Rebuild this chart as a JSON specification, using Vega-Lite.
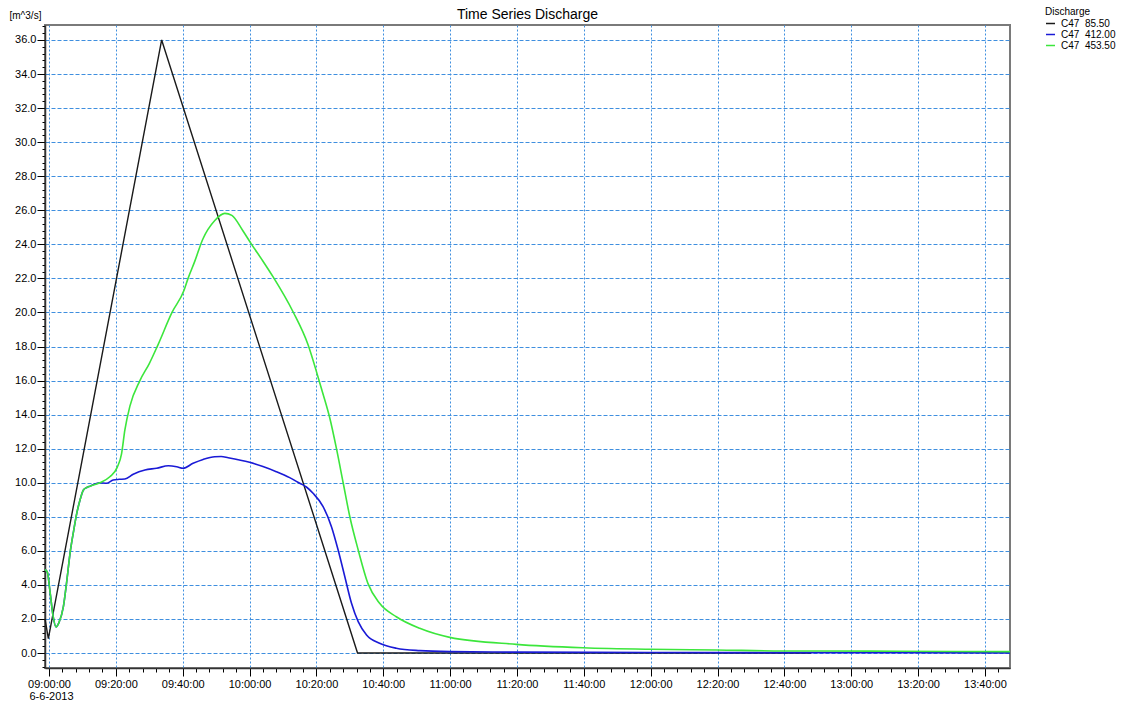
{
  "$schema": "https://vega.github.io/schema/vega-lite/v6.json",
  "width": 965,
  "height": 643,
  "autosize": {"type": "none"},
  "padding": {"left": 45, "top": 25, "right": 120, "bottom": 36},
  "background": "white",
  "config": {
    "font": "Liberation Sans",
    "view": {"stroke": "#7a7a7a", "strokeWidth": 2},
    "axis": {"labelColor": "#000", "tickColor": "#000", "titleColor": "#000", "domainColor": "#333"}
  },
  "title": {"text": "Time Series Discharge", "fontSize": 14, "fontWeight": "normal", "anchor": "middle", "offset": -15, "color": "#000"},
  "data": {"values": [
    {"t": "2013-06-06T08:58:48", "v": 2.0, "s": "C47\u00a0\u00a085.50"},
    {"t": "2013-06-06T08:59:48", "v": 0.85, "s": "C47\u00a0\u00a085.50"},
    {"t": "2013-06-06T09:33:42", "v": 36.0, "s": "C47\u00a0\u00a085.50"},
    {"t": "2013-06-06T10:32:18", "v": 0.0, "s": "C47\u00a0\u00a085.50"},
    {"t": "2013-06-06T12:48:00", "v": 0.0, "s": "C47\u00a0\u00a085.50"},

    {"t": "2013-06-06T08:58:48", "v": 4.9, "s": "C47\u00a0\u00a0412.00"},
    {"t": "2013-06-06T08:59:30", "v": 4.75, "s": "C47\u00a0\u00a0412.00"},
    {"t": "2013-06-06T09:00:18", "v": 3.6, "s": "C47\u00a0\u00a0412.00"},
    {"t": "2013-06-06T09:01:12", "v": 2.2, "s": "C47\u00a0\u00a0412.00"},
    {"t": "2013-06-06T09:02:06", "v": 1.53, "s": "C47\u00a0\u00a0412.00"},
    {"t": "2013-06-06T09:03:00", "v": 1.8, "s": "C47\u00a0\u00a0412.00"},
    {"t": "2013-06-06T09:04:18", "v": 2.72, "s": "C47\u00a0\u00a0412.00"},
    {"t": "2013-06-06T09:05:18", "v": 4.2, "s": "C47\u00a0\u00a0412.00"},
    {"t": "2013-06-06T09:06:18", "v": 5.87, "s": "C47\u00a0\u00a0412.00"},
    {"t": "2013-06-06T09:07:18", "v": 7.1, "s": "C47\u00a0\u00a0412.00"},
    {"t": "2013-06-06T09:08:18", "v": 8.2, "s": "C47\u00a0\u00a0412.00"},
    {"t": "2013-06-06T09:09:18", "v": 9.0, "s": "C47\u00a0\u00a0412.00"},
    {"t": "2013-06-06T09:10:18", "v": 9.57, "s": "C47\u00a0\u00a0412.00"},
    {"t": "2013-06-06T09:11:18", "v": 9.72, "s": "C47\u00a0\u00a0412.00"},
    {"t": "2013-06-06T09:12:18", "v": 9.8, "s": "C47\u00a0\u00a0412.00"},
    {"t": "2013-06-06T09:13:42", "v": 9.92, "s": "C47\u00a0\u00a0412.00"},
    {"t": "2013-06-06T09:15:12", "v": 10.0, "s": "C47\u00a0\u00a0412.00"},
    {"t": "2013-06-06T09:17:12", "v": 9.97, "s": "C47\u00a0\u00a0412.00"},
    {"t": "2013-06-06T09:19:12", "v": 10.16, "s": "C47\u00a0\u00a0412.00"},
    {"t": "2013-06-06T09:21:00", "v": 10.2, "s": "C47\u00a0\u00a0412.00"},
    {"t": "2013-06-06T09:22:42", "v": 10.22, "s": "C47\u00a0\u00a0412.00"},
    {"t": "2013-06-06T09:25:12", "v": 10.5, "s": "C47\u00a0\u00a0412.00"},
    {"t": "2013-06-06T09:28:42", "v": 10.75, "s": "C47\u00a0\u00a0412.00"},
    {"t": "2013-06-06T09:32:12", "v": 10.85, "s": "C47\u00a0\u00a0412.00"},
    {"t": "2013-06-06T09:35:42", "v": 11.0, "s": "C47\u00a0\u00a0412.00"},
    {"t": "2013-06-06T09:38:12", "v": 10.94, "s": "C47\u00a0\u00a0412.00"},
    {"t": "2013-06-06T09:40:06", "v": 10.85, "s": "C47\u00a0\u00a0412.00"},
    {"t": "2013-06-06T09:43:06", "v": 11.14, "s": "C47\u00a0\u00a0412.00"},
    {"t": "2013-06-06T09:46:06", "v": 11.37, "s": "C47\u00a0\u00a0412.00"},
    {"t": "2013-06-06T09:49:36", "v": 11.53, "s": "C47\u00a0\u00a0412.00"},
    {"t": "2013-06-06T09:51:30", "v": 11.54, "s": "C47\u00a0\u00a0412.00"},
    {"t": "2013-06-06T09:53:36", "v": 11.47, "s": "C47\u00a0\u00a0412.00"},
    {"t": "2013-06-06T10:00:00", "v": 11.2, "s": "C47\u00a0\u00a0412.00"},
    {"t": "2013-06-06T10:04:00", "v": 10.95, "s": "C47\u00a0\u00a0412.00"},
    {"t": "2013-06-06T10:08:00", "v": 10.65, "s": "C47\u00a0\u00a0412.00"},
    {"t": "2013-06-06T10:12:00", "v": 10.3, "s": "C47\u00a0\u00a0412.00"},
    {"t": "2013-06-06T10:15:00", "v": 9.97, "s": "C47\u00a0\u00a0412.00"},
    {"t": "2013-06-06T10:17:00", "v": 9.75, "s": "C47\u00a0\u00a0412.00"},
    {"t": "2013-06-06T10:19:00", "v": 9.38, "s": "C47\u00a0\u00a0412.00"},
    {"t": "2013-06-06T10:22:00", "v": 8.6, "s": "C47\u00a0\u00a0412.00"},
    {"t": "2013-06-06T10:24:30", "v": 7.42, "s": "C47\u00a0\u00a0412.00"},
    {"t": "2013-06-06T10:26:30", "v": 6.05, "s": "C47\u00a0\u00a0412.00"},
    {"t": "2013-06-06T10:28:30", "v": 4.48, "s": "C47\u00a0\u00a0412.00"},
    {"t": "2013-06-06T10:30:30", "v": 2.92, "s": "C47\u00a0\u00a0412.00"},
    {"t": "2013-06-06T10:32:30", "v": 1.84, "s": "C47\u00a0\u00a0412.00"},
    {"t": "2013-06-06T10:35:00", "v": 1.06, "s": "C47\u00a0\u00a0412.00"},
    {"t": "2013-06-06T10:38:54", "v": 0.57, "s": "C47\u00a0\u00a0412.00"},
    {"t": "2013-06-06T10:43:54", "v": 0.28, "s": "C47\u00a0\u00a0412.00"},
    {"t": "2013-06-06T10:50:54", "v": 0.14, "s": "C47\u00a0\u00a0412.00"},
    {"t": "2013-06-06T11:00:00", "v": 0.08, "s": "C47\u00a0\u00a0412.00"},
    {"t": "2013-06-06T11:20:00", "v": 0.05, "s": "C47\u00a0\u00a0412.00"},
    {"t": "2013-06-06T12:00:00", "v": 0.03, "s": "C47\u00a0\u00a0412.00"},
    {"t": "2013-06-06T12:50:00", "v": 0.02, "s": "C47\u00a0\u00a0412.00"},
    {"t": "2013-06-06T13:47:30", "v": 0.01, "s": "C47\u00a0\u00a0412.00"},

    {"t": "2013-06-06T08:58:48", "v": 4.9, "s": "C47\u00a0\u00a0453.50"},
    {"t": "2013-06-06T08:59:30", "v": 4.75, "s": "C47\u00a0\u00a0453.50"},
    {"t": "2013-06-06T09:00:18", "v": 3.6, "s": "C47\u00a0\u00a0453.50"},
    {"t": "2013-06-06T09:01:12", "v": 2.2, "s": "C47\u00a0\u00a0453.50"},
    {"t": "2013-06-06T09:02:06", "v": 1.53, "s": "C47\u00a0\u00a0453.50"},
    {"t": "2013-06-06T09:03:00", "v": 1.8, "s": "C47\u00a0\u00a0453.50"},
    {"t": "2013-06-06T09:04:18", "v": 2.72, "s": "C47\u00a0\u00a0453.50"},
    {"t": "2013-06-06T09:05:18", "v": 4.2, "s": "C47\u00a0\u00a0453.50"},
    {"t": "2013-06-06T09:06:18", "v": 5.87, "s": "C47\u00a0\u00a0453.50"},
    {"t": "2013-06-06T09:07:18", "v": 7.1, "s": "C47\u00a0\u00a0453.50"},
    {"t": "2013-06-06T09:08:18", "v": 8.2, "s": "C47\u00a0\u00a0453.50"},
    {"t": "2013-06-06T09:09:18", "v": 9.0, "s": "C47\u00a0\u00a0453.50"},
    {"t": "2013-06-06T09:10:18", "v": 9.57, "s": "C47\u00a0\u00a0453.50"},
    {"t": "2013-06-06T09:11:18", "v": 9.72, "s": "C47\u00a0\u00a0453.50"},
    {"t": "2013-06-06T09:12:18", "v": 9.8, "s": "C47\u00a0\u00a0453.50"},
    {"t": "2013-06-06T09:15:12", "v": 10.0, "s": "C47\u00a0\u00a0453.50"},
    {"t": "2013-06-06T09:18:12", "v": 10.35, "s": "C47\u00a0\u00a0453.50"},
    {"t": "2013-06-06T09:20:24", "v": 10.9, "s": "C47\u00a0\u00a0453.50"},
    {"t": "2013-06-06T09:21:42", "v": 11.7, "s": "C47\u00a0\u00a0453.50"},
    {"t": "2013-06-06T09:22:42", "v": 13.1, "s": "C47\u00a0\u00a0453.50"},
    {"t": "2013-06-06T09:24:12", "v": 14.5, "s": "C47\u00a0\u00a0453.50"},
    {"t": "2013-06-06T09:27:12", "v": 16.0, "s": "C47\u00a0\u00a0453.50"},
    {"t": "2013-06-06T09:30:00", "v": 17.0, "s": "C47\u00a0\u00a0453.50"},
    {"t": "2013-06-06T09:32:36", "v": 18.1, "s": "C47\u00a0\u00a0453.50"},
    {"t": "2013-06-06T09:36:48", "v": 20.0, "s": "C47\u00a0\u00a0453.50"},
    {"t": "2013-06-06T09:40:24", "v": 21.3, "s": "C47\u00a0\u00a0453.50"},
    {"t": "2013-06-06T09:41:36", "v": 22.0, "s": "C47\u00a0\u00a0453.50"},
    {"t": "2013-06-06T09:43:36", "v": 23.0, "s": "C47\u00a0\u00a0453.50"},
    {"t": "2013-06-06T09:46:00", "v": 24.3, "s": "C47\u00a0\u00a0453.50"},
    {"t": "2013-06-06T09:49:36", "v": 25.4, "s": "C47\u00a0\u00a0453.50"},
    {"t": "2013-06-06T09:52:36", "v": 25.82, "s": "C47\u00a0\u00a0453.50"},
    {"t": "2013-06-06T09:54:42", "v": 25.7, "s": "C47\u00a0\u00a0453.50"},
    {"t": "2013-06-06T09:58:00", "v": 24.8, "s": "C47\u00a0\u00a0453.50"},
    {"t": "2013-06-06T10:00:36", "v": 24.0, "s": "C47\u00a0\u00a0453.50"},
    {"t": "2013-06-06T10:03:42", "v": 23.1, "s": "C47\u00a0\u00a0453.50"},
    {"t": "2013-06-06T10:07:00", "v": 22.1, "s": "C47\u00a0\u00a0453.50"},
    {"t": "2013-06-06T10:13:00", "v": 20.04, "s": "C47\u00a0\u00a0453.50"},
    {"t": "2013-06-06T10:17:30", "v": 18.1, "s": "C47\u00a0\u00a0453.50"},
    {"t": "2013-06-06T10:20:30", "v": 16.2, "s": "C47\u00a0\u00a0453.50"},
    {"t": "2013-06-06T10:22:00", "v": 15.2, "s": "C47\u00a0\u00a0453.50"},
    {"t": "2013-06-06T10:24:00", "v": 13.8, "s": "C47\u00a0\u00a0453.50"},
    {"t": "2013-06-06T10:26:00", "v": 12.0, "s": "C47\u00a0\u00a0453.50"},
    {"t": "2013-06-06T10:28:00", "v": 10.0, "s": "C47\u00a0\u00a0453.50"},
    {"t": "2013-06-06T10:30:00", "v": 8.0, "s": "C47\u00a0\u00a0453.50"},
    {"t": "2013-06-06T10:32:30", "v": 6.05, "s": "C47\u00a0\u00a0453.50"},
    {"t": "2013-06-06T10:35:24", "v": 4.09, "s": "C47\u00a0\u00a0453.50"},
    {"t": "2013-06-06T10:38:54", "v": 2.92, "s": "C47\u00a0\u00a0453.50"},
    {"t": "2013-06-06T10:43:54", "v": 2.13, "s": "C47\u00a0\u00a0453.50"},
    {"t": "2013-06-06T10:50:54", "v": 1.45, "s": "C47\u00a0\u00a0453.50"},
    {"t": "2013-06-06T10:59:54", "v": 0.92, "s": "C47\u00a0\u00a0453.50"},
    {"t": "2013-06-06T11:19:48", "v": 0.51, "s": "C47\u00a0\u00a0453.50"},
    {"t": "2013-06-06T11:39:42", "v": 0.31, "s": "C47\u00a0\u00a0453.50"},
    {"t": "2013-06-06T11:59:42", "v": 0.22, "s": "C47\u00a0\u00a0453.50"},
    {"t": "2013-06-06T12:19:36", "v": 0.18, "s": "C47\u00a0\u00a0453.50"},
    {"t": "2013-06-06T12:39:30", "v": 0.12, "s": "C47\u00a0\u00a0453.50"},
    {"t": "2013-06-06T12:50:30", "v": 0.12, "s": "C47\u00a0\u00a0453.50"},
    {"t": "2013-06-06T13:14:24", "v": 0.1, "s": "C47\u00a0\u00a0453.50"},
    {"t": "2013-06-06T13:47:30", "v": 0.08, "s": "C47\u00a0\u00a0453.50"}
  ]},
  "layer": [
    {
      "mark": {"type": "point", "opacity": 0},
      "encoding": {
        "x": {"field": "t", "type": "temporal",
          "scale": {"domain": [{"year": 2013, "month": 6, "date": 6, "hours": 8, "minutes": 58, "seconds": 48}, {"year": 2013, "month": 6, "date": 6, "hours": 13, "minutes": 47, "seconds": 30}]},
          "axis": {"orient": "bottom", "labels": false, "grid": false, "domain": false, "tickSize": 4, "title": null,
            "values": [
              {"year": 2013, "month": 6, "date": 6, "hours": 9, "minutes": 0},
              {"year": 2013, "month": 6, "date": 6, "hours": 9, "minutes": 4},
              {"year": 2013, "month": 6, "date": 6, "hours": 9, "minutes": 8},
              {"year": 2013, "month": 6, "date": 6, "hours": 9, "minutes": 12},
              {"year": 2013, "month": 6, "date": 6, "hours": 9, "minutes": 16},
              {"year": 2013, "month": 6, "date": 6, "hours": 9, "minutes": 20},
              {"year": 2013, "month": 6, "date": 6, "hours": 9, "minutes": 24},
              {"year": 2013, "month": 6, "date": 6, "hours": 9, "minutes": 28},
              {"year": 2013, "month": 6, "date": 6, "hours": 9, "minutes": 32},
              {"year": 2013, "month": 6, "date": 6, "hours": 9, "minutes": 36},
              {"year": 2013, "month": 6, "date": 6, "hours": 9, "minutes": 40},
              {"year": 2013, "month": 6, "date": 6, "hours": 9, "minutes": 44},
              {"year": 2013, "month": 6, "date": 6, "hours": 9, "minutes": 48},
              {"year": 2013, "month": 6, "date": 6, "hours": 9, "minutes": 52},
              {"year": 2013, "month": 6, "date": 6, "hours": 9, "minutes": 56},
              {"year": 2013, "month": 6, "date": 6, "hours": 10, "minutes": 0},
              {"year": 2013, "month": 6, "date": 6, "hours": 10, "minutes": 4},
              {"year": 2013, "month": 6, "date": 6, "hours": 10, "minutes": 8},
              {"year": 2013, "month": 6, "date": 6, "hours": 10, "minutes": 12},
              {"year": 2013, "month": 6, "date": 6, "hours": 10, "minutes": 16},
              {"year": 2013, "month": 6, "date": 6, "hours": 10, "minutes": 20},
              {"year": 2013, "month": 6, "date": 6, "hours": 10, "minutes": 24},
              {"year": 2013, "month": 6, "date": 6, "hours": 10, "minutes": 28},
              {"year": 2013, "month": 6, "date": 6, "hours": 10, "minutes": 32},
              {"year": 2013, "month": 6, "date": 6, "hours": 10, "minutes": 36},
              {"year": 2013, "month": 6, "date": 6, "hours": 10, "minutes": 40},
              {"year": 2013, "month": 6, "date": 6, "hours": 10, "minutes": 44},
              {"year": 2013, "month": 6, "date": 6, "hours": 10, "minutes": 48},
              {"year": 2013, "month": 6, "date": 6, "hours": 10, "minutes": 52},
              {"year": 2013, "month": 6, "date": 6, "hours": 10, "minutes": 56},
              {"year": 2013, "month": 6, "date": 6, "hours": 11, "minutes": 0},
              {"year": 2013, "month": 6, "date": 6, "hours": 11, "minutes": 4},
              {"year": 2013, "month": 6, "date": 6, "hours": 11, "minutes": 8},
              {"year": 2013, "month": 6, "date": 6, "hours": 11, "minutes": 12},
              {"year": 2013, "month": 6, "date": 6, "hours": 11, "minutes": 16},
              {"year": 2013, "month": 6, "date": 6, "hours": 11, "minutes": 20},
              {"year": 2013, "month": 6, "date": 6, "hours": 11, "minutes": 24},
              {"year": 2013, "month": 6, "date": 6, "hours": 11, "minutes": 28},
              {"year": 2013, "month": 6, "date": 6, "hours": 11, "minutes": 32},
              {"year": 2013, "month": 6, "date": 6, "hours": 11, "minutes": 36},
              {"year": 2013, "month": 6, "date": 6, "hours": 11, "minutes": 40},
              {"year": 2013, "month": 6, "date": 6, "hours": 11, "minutes": 44},
              {"year": 2013, "month": 6, "date": 6, "hours": 11, "minutes": 48},
              {"year": 2013, "month": 6, "date": 6, "hours": 11, "minutes": 52},
              {"year": 2013, "month": 6, "date": 6, "hours": 11, "minutes": 56},
              {"year": 2013, "month": 6, "date": 6, "hours": 12, "minutes": 0},
              {"year": 2013, "month": 6, "date": 6, "hours": 12, "minutes": 4},
              {"year": 2013, "month": 6, "date": 6, "hours": 12, "minutes": 8},
              {"year": 2013, "month": 6, "date": 6, "hours": 12, "minutes": 12},
              {"year": 2013, "month": 6, "date": 6, "hours": 12, "minutes": 16},
              {"year": 2013, "month": 6, "date": 6, "hours": 12, "minutes": 20},
              {"year": 2013, "month": 6, "date": 6, "hours": 12, "minutes": 24},
              {"year": 2013, "month": 6, "date": 6, "hours": 12, "minutes": 28},
              {"year": 2013, "month": 6, "date": 6, "hours": 12, "minutes": 32},
              {"year": 2013, "month": 6, "date": 6, "hours": 12, "minutes": 36},
              {"year": 2013, "month": 6, "date": 6, "hours": 12, "minutes": 40},
              {"year": 2013, "month": 6, "date": 6, "hours": 12, "minutes": 44},
              {"year": 2013, "month": 6, "date": 6, "hours": 12, "minutes": 48},
              {"year": 2013, "month": 6, "date": 6, "hours": 12, "minutes": 52},
              {"year": 2013, "month": 6, "date": 6, "hours": 12, "minutes": 56},
              {"year": 2013, "month": 6, "date": 6, "hours": 13, "minutes": 0},
              {"year": 2013, "month": 6, "date": 6, "hours": 13, "minutes": 4},
              {"year": 2013, "month": 6, "date": 6, "hours": 13, "minutes": 8},
              {"year": 2013, "month": 6, "date": 6, "hours": 13, "minutes": 12},
              {"year": 2013, "month": 6, "date": 6, "hours": 13, "minutes": 16},
              {"year": 2013, "month": 6, "date": 6, "hours": 13, "minutes": 20},
              {"year": 2013, "month": 6, "date": 6, "hours": 13, "minutes": 24},
              {"year": 2013, "month": 6, "date": 6, "hours": 13, "minutes": 28},
              {"year": 2013, "month": 6, "date": 6, "hours": 13, "minutes": 32},
              {"year": 2013, "month": 6, "date": 6, "hours": 13, "minutes": 36},
              {"year": 2013, "month": 6, "date": 6, "hours": 13, "minutes": 40},
              {"year": 2013, "month": 6, "date": 6, "hours": 13, "minutes": 44}
            ]}},
        "y": {"field": "v", "type": "quantitative",
          "scale": {"domain": [-0.88, 36.88], "nice": false, "zero": false},
          "axis": {"orient": "left", "labels": false, "grid": false, "domain": false, "tickSize": 3, "title": null,
            "values": [-0.8,-0.4,0,0.4,0.8,1.2,1.6,2,2.4,2.8,3.2,3.6,4,4.4,4.8,5.2,5.6,6,6.4,6.8,7.2,7.6,8,8.4,8.8,9.2,9.6,10,10.4,10.8,11.2,11.6,12,12.4,12.8,13.2,13.6,14,14.4,14.8,15.2,15.6,16,16.4,16.8,17.2,17.6,18,18.4,18.8,19.2,19.6,20,20.4,20.8,21.2,21.6,22,22.4,22.8,23.2,23.6,24,24.4,24.8,25.2,25.6,26,26.4,26.8,27.2,27.6,28,28.4,28.8,29.2,29.6,30,30.4,30.8,31.2,31.6,32,32.4,32.8,33.2,33.6,34,34.4,34.8,35.2,35.6,36,36.4,36.8]}}
      }
    },
    {
      "encoding": {
        "x": {"field": "t", "type": "temporal",
          "axis": {"orient": "bottom", "format": "%H:%M:%S",
            "values": [
              {"year": 2013, "month": 6, "date": 6, "hours": 9, "minutes": 0},
              {"year": 2013, "month": 6, "date": 6, "hours": 9, "minutes": 20},
              {"year": 2013, "month": 6, "date": 6, "hours": 9, "minutes": 40},
              {"year": 2013, "month": 6, "date": 6, "hours": 10, "minutes": 0},
              {"year": 2013, "month": 6, "date": 6, "hours": 10, "minutes": 20},
              {"year": 2013, "month": 6, "date": 6, "hours": 10, "minutes": 40},
              {"year": 2013, "month": 6, "date": 6, "hours": 11, "minutes": 0},
              {"year": 2013, "month": 6, "date": 6, "hours": 11, "minutes": 20},
              {"year": 2013, "month": 6, "date": 6, "hours": 11, "minutes": 40},
              {"year": 2013, "month": 6, "date": 6, "hours": 12, "minutes": 0},
              {"year": 2013, "month": 6, "date": 6, "hours": 12, "minutes": 20},
              {"year": 2013, "month": 6, "date": 6, "hours": 12, "minutes": 40},
              {"year": 2013, "month": 6, "date": 6, "hours": 13, "minutes": 0},
              {"year": 2013, "month": 6, "date": 6, "hours": 13, "minutes": 20},
              {"year": 2013, "month": 6, "date": 6, "hours": 13, "minutes": 40}
            ],
            "grid": true, "gridColor": "#3f8fdf", "gridDash": [2, 2], "gridWidth": 1,
            "tickSize": 8, "domainWidth": 1.5,
            "labelFontSize": 11, "labelPadding": 2, "labelFlush": false, "labelOverlap": false,
            "title": "6-6-2013", "titleFontSize": 11, "titleFontWeight": "normal", "titleX": 6, "titleY": 22, "titleAlign": "center", "titleBaseline": "top"}},
        "y": {"field": "v", "type": "quantitative",
          "axis": {"orient": "left", "values": [0,2,4,6,8,10,12,14,16,18,20,22,24,26,28,30,32,34,36], "format": ".1f",
            "grid": true, "gridColor": "#3f8fdf", "gridDash": [4, 2], "gridWidth": 1,
            "tickSize": 8, "domainWidth": 1.5,
            "labelFontSize": 11, "labelPadding": 1,
            "title": "[m^3/s]", "titleAngle": 0, "titleAlign": "left", "titleBaseline": "middle", "titleX": -36, "titleY": -10, "titleFontSize": 10, "titleFontWeight": "normal"}},
        "color": {"field": "s", "type": "nominal",
          "scale": {"domain": ["C47\u00a0\u00a085.50", "C47\u00a0\u00a0412.00", "C47\u00a0\u00a0453.50"], "range": ["#1a1a1a", "#1a1ad6", "#3ce63c"]},
          "legend": {"orient": "none", "legendX": 1000, "legendY": -18, "title": "Discharge", "titleFontSize": 10, "titleFontWeight": "normal", "titlePadding": 1, "titleColor": "#000",
            "labelFontSize": 10, "labelColor": "#000", "symbolType": "stroke", "symbolSize": 81, "symbolStrokeWidth": 1.5, "rowPadding": 0, "labelOffset": 5, "padding": 0}}
      },
      "layer": [
        {"transform": [{"filter": {"field": "s", "equal": "C47\u00a0\u00a085.50"}}],
         "mark": {"type": "line", "strokeWidth": 1.4, "interpolate": "linear"}},
        {"transform": [{"filter": {"not": {"field": "s", "equal": "C47\u00a0\u00a085.50"}}}],
         "mark": {"type": "line", "strokeWidth": 1.6, "interpolate": "monotone"}}
      ]
    }
  ],
  "resolve": {"axis": {"x": "independent", "y": "independent"}}
}
